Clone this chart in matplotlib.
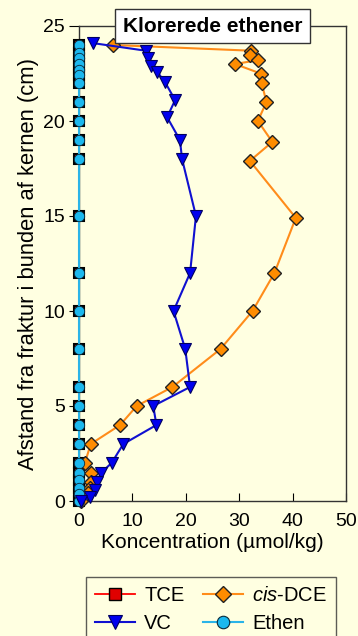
import numpy as np
import matplotlib.pyplot as plt
from matplotlib.lines import Line2D

plt.rcParams['font.family'] = ['Liberation Sans', 'DejaVu Sans']
plt.rcParams['mathtext.fontset'] = 'custom'
plt.rcParams['mathtext.it'] = 'Liberation Sans:italic'
plt.rcParams['mathtext.rm'] = 'Liberation Sans'

# depths (cm) and concentrations (umol/kg)
depth_ethen = [24.0, 23.6, 23.3, 23.0, 22.7, 22.4, 22.0, 21.0, 20.0, 19.0, 18.0,
               15.0, 12.0, 10.0, 8.0, 6.0, 5.0, 4.0, 3.0, 2.0, 1.5, 1.1, 0.7, 0.35, 0.0]
ethen = [0.0] * len(depth_ethen)
tce = [0.0] * len(depth_ethen)

depth_vc = [24.1, 23.7, 23.3, 22.9, 22.6, 22.05, 21.1, 20.2, 19.0, 18.0, 15.0,
            12.0, 10.0, 8.0, 6.0, 5.0, 4.0, 3.0, 2.0, 1.5, 1.0, 0.6, 0.2, 0.0]
vc = [2.6, 12.5, 12.9, 13.5, 14.6, 16.1, 18.0, 16.5, 18.9, 19.3, 21.9,
      20.8, 17.7, 19.9, 20.8, 13.9, 14.5, 8.3, 6.1, 4.2, 3.3, 3.0, 2.1, 0.3]

depth_dce = [24.0, 23.7, 23.5, 23.2, 23.0, 22.5, 22.0, 21.0, 20.0, 18.9, 17.9,
             14.9, 12.0, 10.0, 8.0, 6.0, 5.0, 4.0, 3.0, 2.0, 1.5, 1.0, 0.7, 0.4, 0.0]
dce = [6.4, 32.2, 32.0, 33.5, 29.2, 34.0, 34.2, 35.1, 33.5, 36.2, 32.0,
       40.6, 36.6, 32.5, 26.5, 17.5, 10.8, 7.7, 2.2, 1.1, 2.2, 2.2, 2.0, 1.7, 0.3]

bg = '#FFFFE1'
fig = plt.figure(figsize=(3.58, 6.36), dpi=100, facecolor=bg)
ax = fig.add_axes([79 / 358, 1 - 501 / 636, 267 / 358, 475 / 636], facecolor=bg)

ax.plot(tce, depth_ethen, '-', color='#FF0000', lw=1.3, marker='s', ms=7.5,
        mfc='#E00000', mec='black', mew=1.5, clip_on=False, zorder=3)
ax.plot(dce, depth_dce, '-', color='#FF8C1A', lw=1.5, marker='D', ms=7,
        mfc='#FF8C00', mec='#222222', mew=1.0, clip_on=False, zorder=4)
ax.plot(vc, depth_vc, '-', color='#1010D0', lw=1.5, marker='v', ms=9,
        mfc='#0000EE', mec='#000060', mew=0.8, clip_on=False, zorder=5)
ax.plot(ethen, depth_ethen, '-', color='#2AB4E8', lw=1.5, marker='o', ms=7.5,
        mfc='#1CB8EE', mec='#0A2A3A', mew=0.6, clip_on=False, zorder=4)

ax.set_xlim(0, 50)
ax.set_ylim(0, 25)
ax.set_xticks([0, 10, 20, 30, 40, 50])
ax.set_yticks([0, 5, 10, 15, 20, 25])
ax.tick_params(axis='x', direction='in', length=6, pad=9, labelsize=14)
ax.tick_params(axis='y', direction='out', length=7, pad=3, labelsize=14)
ax.tick_params(top=False, right=False)
for s in ax.spines.values():
    s.set_color('#333333')
    s.set_linewidth(1.0)

ax.set_xlabel('Koncentration (µmol/kg)', fontsize=15, labelpad=2)
ax.set_ylabel('Afstand fra fraktur i bunden af kernen (cm)', fontsize=15.8, labelpad=3)

ax.text(0.5, 1.0, 'Klorerede ethener', transform=ax.transAxes, ha='center', va='center',
        fontsize=15, fontweight='bold', zorder=10,
        bbox=dict(boxstyle='square,pad=0.38', facecolor='white', edgecolor='#333333', lw=1.0))

# legend entries, column-wise: TCE, VC | cis-DCE, Ethen
leg_items = [
    Line2D([], [], color='#FF0000', lw=1.3, marker='s', ms=9, mfc='#E00000', mec='black', mew=1.0),
    Line2D([], [], color='#1010D0', lw=1.5, marker='v', ms=10, mfc='#0000EE', mec='#000060', mew=0.8),
    Line2D([], [], color='#FF8C1A', lw=1.5, marker='D', ms=8, mfc='#FF8C00', mec='#222222', mew=1.0),
    Line2D([], [], color='#2AB4E8', lw=1.5, marker='o', ms=9, mfc='#1CB8EE', mec='#0A2A3A', mew=0.8),
]
leg_labels = ['TCE', 'VC', r'$\it{cis}$-DCE', 'Ethen']
leg = fig.legend(leg_items, leg_labels, ncol=2,
                 loc='upper left', bbox_to_anchor=(86 / 358, 1 - 577 / 636),
                 fontsize=14.5, frameon=True, fancybox=False, handlelength=2.0,
                 handletextpad=0.45, columnspacing=0.9, labelspacing=0.45,
                 borderpad=0.45, borderaxespad=0)
leg.get_frame().set_facecolor(bg)
leg.get_frame().set_edgecolor('#333333')
leg.get_frame().set_linewidth(1.0)

plt.savefig('out.png', dpi=100, facecolor=bg)
